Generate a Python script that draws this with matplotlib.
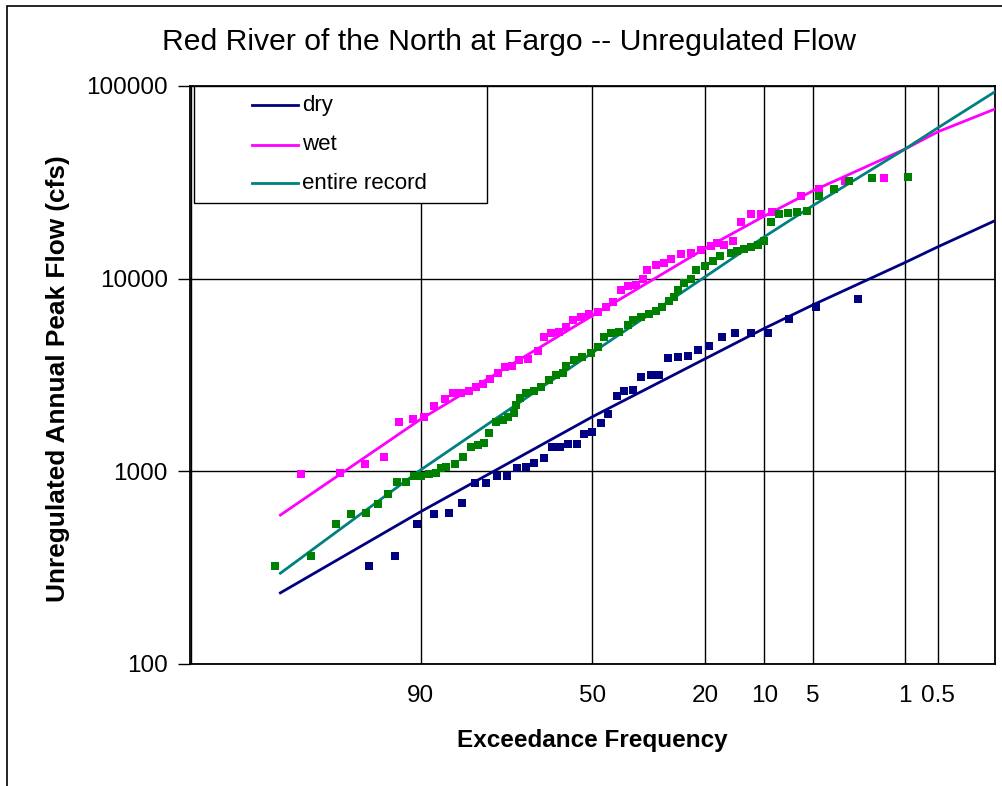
import numpy as np
import matplotlib
matplotlib.use('Agg')
import matplotlib.pyplot as plt
from matplotlib.patches import Rectangle
from matplotlib.lines import Line2D
from matplotlib.ticker import FixedLocator, FixedFormatter, NullLocator, FuncFormatter
from statistics import NormalDist

plt.rcParams['font.family'] = ['Liberation Sans', 'DejaVu Sans']

# annual peaks, wet period: exceedance (%) and flow (cfs)
wet_exceed = [98.5, 97.0, 95.5, 94.0, 92.5, 91.0, 89.6, 88.1, 86.5, 85.1,
              83.6, 82.1, 80.7, 79.2, 77.7, 76.0, 74.3, 72.5, 70.7, 68.5,
              65.8, 64.0, 62.1, 60.0, 57.8, 55.9, 53.4, 50.9, 48.5, 46.0,
              44.0, 41.6, 39.7, 37.3, 35.4, 34.1, 31.8, 29.6, 27.9, 25.5,
              23.2, 21.0, 18.9, 17.6, 16.3, 14.7, 13.4, 11.9, 10.5, 9.0,
              6.0, 4.6, 3.0, 1.5]
wet_flow = [965, 984, 1088, 1187, 1810, 1862, 1908, 2183, 2365, 2541,
            2560, 2620, 2730, 2840, 3004, 3228, 3467, 3521, 3784, 3815,
            4227, 4997, 5243, 5306, 5633, 6104, 6348, 6556, 6740, 7154,
            7597, 8734, 9162, 9270, 9924, 11090, 11780, 12100, 12600, 13430,
            13640, 14090, 14780, 15260, 14960, 15740, 19760, 21740, 21740, 22110,
            26860, 29090, 32250, 33180]

# annual peaks, entire record
all_exceed = [99.1, 98.2, 97.2, 96.4, 95.4, 94.5, 93.6, 92.7, 91.8, 90.8,
              89.9, 88.9, 87.9, 87.0, 86.2, 84.8, 83.3, 81.7, 80.4, 79.0,
              77.9, 76.4, 74.8, 73.6, 72.1, 71.5, 70.5, 69.0, 66.9, 64.9,
              62.8, 60.7, 58.8, 57.8, 55.4, 53.1, 50.4, 48.5, 46.5, 44.5,
              42.1, 39.7, 38.0, 35.9, 33.6, 31.8, 30.1, 28.4, 27.3, 26.3,
              24.7, 23.2, 22.0, 20.1, 18.5, 17.1, 15.1, 14.0, 12.9, 11.9,
              10.9, 10.1, 9.2, 8.2, 7.3, 6.4, 5.5, 4.6, 3.6, 2.8,
              1.85, 0.94]
all_flow = [323, 365, 531, 603, 608, 679, 760, 877, 877, 946,
            946, 966, 980, 1037, 1057, 1088, 1183, 1333, 1370, 1398,
            1576, 1797, 1847, 1921, 2015, 2210, 2394, 2541, 2612, 2724,
            2980, 3162, 3240, 3521, 3771, 3936, 4100, 4436, 4997, 5243,
            5306, 5748, 6104, 6348, 6556, 6822, 7154, 7688, 8062, 8734,
            9462, 9902, 11090, 11600, 12320, 13120, 13640, 13980, 14210, 14650,
            14960, 15740, 19760, 21590, 21850, 22110, 22530, 26860, 29090, 32250,
            33180, 33820]

# annual peaks, dry period
dry_exceed = [95.2, 92.9, 90.5, 88.1, 85.7, 83.4, 80.9, 78.6, 76.2, 73.8,
              71.4, 69.0, 66.8, 64.2, 61.9, 59.5, 57.1, 54.6, 52.6, 50.1,
              47.5, 45.3, 42.8, 40.6, 38.1, 35.9, 33.2, 31.1, 28.8, 26.3,
              23.9, 21.5, 19.2, 16.7, 14.4, 11.9, 9.6, 7.2, 4.8, 2.4]
dry_flow = [323, 365, 531, 604, 610, 681, 873, 873, 946, 946,
            1037, 1057, 1101, 1177, 1333, 1342, 1387, 1387, 1562, 1606,
            1788, 1984, 2460, 2599, 2643, 3077, 3162, 3162, 3862, 3908,
            3969, 4264, 4472, 5008, 5224, 5243, 5243, 6177, 7103, 7817]

# fitted frequency curves
curve_exceed = [99, 90, 50, 20, 10, 5, 1, 0.5, 0.135]
dry_curve = [234, 617, 1921, 3846, 5525, 7320, 12100, 14650, 20000]
wet_curve = [593, 1862, 6430, 14380, 21150, 28620, 46940, 57920, 75970]
all_curve = [296, 1016, 4130, 10250, 16510, 24000, 46940, 60760, 93400]

xticks = [90, 50, 20, 10, 5, 1, 0.5]
xticklabels = ['90', '50', '20', '10', '5', '1', '0.5']
yticks = [100, 1000, 10000, 100000]

c_dry = '#000080'
c_wet = '#ff00ff'
c_all_line = '#008080'
c_all_pts = '#008000'

W, H = 1003, 786
nd = NormalDist()


# normal probability scale: exceedance (%) <-> standard normal variate
def exc_to_z(p):
    p = np.clip(np.asarray(p, dtype=float), 1e-6, 100 - 1e-6)
    return np.vectorize(lambda v: nd.inv_cdf(v / 100.0), otypes=[float])(p)


def z_to_exc(z):
    z = np.asarray(z, dtype=float)
    return np.vectorize(lambda v: 100.0 * nd.cdf(v), otypes=[float])(z)


def px(x):
    return x / W


def py(y):
    return 1 - y / H


fig = plt.figure(figsize=(W / 100, H / 100), dpi=100)
fig.patch.set_facecolor('white')

# chart border
fig.add_artist(Rectangle((px(7), -0.1), 1.5, py(6) + 0.1, transform=fig.transFigure,
                         fill=False, ec='black', lw=1.2))

ax = fig.add_axes([px(190), py(664), px(995) - px(190), py(86) - py(664)])
ax.set_xscale('function', functions=(exc_to_z, z_to_exc))
ax.set_yscale('log')
ax.set_xlim(99.865, 0.135)
ax.set_ylim(100, 100000)

ax.xaxis.set_major_locator(FixedLocator(xticks))
ax.xaxis.set_major_formatter(FixedFormatter(xticklabels))
ax.xaxis.set_minor_locator(NullLocator())
ax.yaxis.set_major_locator(FixedLocator(yticks))
ax.yaxis.set_major_formatter(FuncFormatter(lambda v, _: '%d' % round(v)))
ax.yaxis.set_minor_locator(NullLocator())
ax.grid(True, which='major', color='black', lw=1.0)
ax.set_axisbelow(True)

ax.tick_params(axis='x', length=0, pad=15, labelsize=17.5)
ax.tick_params(axis='y', length=9, width=1.0, direction='out', pad=7, labelsize=17.5)
for s in ax.spines.values():
    s.set_color('black')
    s.set_linewidth(1.3)
ax.axvline(99.86, color='black', lw=1.0)

# fitted curves
ax.plot(curve_exceed, dry_curve, color=c_dry, lw=2.0, zorder=3)
ax.plot(curve_exceed, wet_curve, color=c_wet, lw=2.0, zorder=3)
ax.plot(curve_exceed, all_curve, color=c_all_line, lw=2.0, zorder=3)

# plotted peaks
ax.plot(wet_exceed, wet_flow, 's', color=c_wet, ms=6, mew=0, zorder=4)
ax.plot(all_exceed, all_flow, 's', color=c_all_pts, ms=6, mew=0, zorder=5)
ax.plot(dry_exceed, dry_flow, 's', color=c_dry, ms=6, mew=0, zorder=5)

# legend box
ax.add_patch(Rectangle((0.005, 0.7976), 0.364, 0.2024, transform=ax.transAxes,
                       facecolor='white', edgecolor='black', lw=1.0, zorder=6))
for yy, col, lab in [(0.967, c_dry, 'dry'), (0.898, c_wet, 'wet'),
                     (0.8317, c_all_line, 'entire record')]:
    ax.add_line(Line2D([0.077, 0.134], [yy, yy], transform=ax.transAxes,
                       color=col, lw=2.0, zorder=7))
    ax.text(0.139, yy, lab, transform=ax.transAxes, fontsize=16,
            va='center', ha='left', zorder=7)

fig.text(px(509), py(42), 'Red River of the North at Fargo -- Unregulated Flow',
         ha='center', va='center', fontsize=21.7)
fig.text(px(592), py(741), 'Exceedance Frequency', ha='center', va='center',
         fontsize=17.5, fontweight='bold')
fig.text(px(58), py(379), 'Unregulated Annual Peak Flow (cfs)', ha='center',
         va='center', rotation=90, fontsize=18.9, fontweight='bold')

fig.savefig('out.png', dpi=100)
